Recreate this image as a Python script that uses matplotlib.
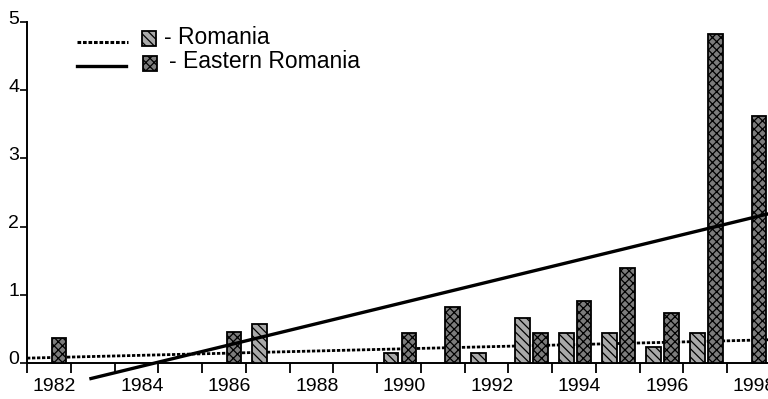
import matplotlib
matplotlib.use('Agg')
import matplotlib.pyplot as plt
from matplotlib.lines import Line2D
from matplotlib.patches import Rectangle
from matplotlib.transforms import ScaledTranslation

plt.rcParams['font.family'] = ['Liberation Sans', 'DejaVu Sans']
plt.rcParams['hatch.linewidth'] = 0.9

# ---------------- data ----------------
romania_years = [1987, 1990, 1992, 1993, 1994, 1995, 1996, 1997]
romania_values = [0.57, 0.15, 0.15, 0.66, 0.44, 0.44, 0.23, 0.44]
eastern_years = [1982, 1986, 1990, 1991, 1993, 1994, 1995, 1996, 1997, 1998]
eastern_values = [0.37, 0.45, 0.44, 0.82, 0.44, 0.91, 1.39, 0.73, 4.82, 3.62]
romania_trend_years = [1981.475, 1998.6]
romania_trend_values = [0.07, 0.342]
eastern_trend_years = [1982.9, 1998.6]
eastern_trend_values = [-0.235, 2.215]
x_label_years = [1982, 1984, 1986, 1988, 1990, 1992, 1994, 1996, 1998]
y_ticks = [0, 1, 2, 3, 4, 5]
legend_labels = ['- Romania', '- Eastern Romania']

# ---------------- figure ----------------
W, H = 768, 399
fig = plt.figure(figsize=(W / 100, H / 100), dpi=100)
fig.patch.set_facecolor('white')
ax = fig.add_axes([27 / W, 1 - 397 / H, 741 / W, 375 / H])
ax.set_facecolor('none')

x0, x1 = 1981.475, 1998.41
ax.set_xlim(x0, x1)
ax.set_ylim(-0.5, 5.0)

bw = 0.34
off = 0.205
rom_style = dict(facecolor='#a9a9a9', edgecolor='black', hatch='\\\\\\\\', linewidth=1.3)
east_style = dict(facecolor='#7c7c7c', edgecolor='black', hatch='xxxx', linewidth=1.3)

ax.bar([y - off for y in romania_years], romania_values, width=bw, zorder=3, **rom_style)
ax.bar([y + off for y in eastern_years], eastern_values, width=bw, zorder=3, **east_style)

ax.plot(romania_trend_years, romania_trend_values, color='black', lw=2.0,
        ls=(0, (1.2, 0.6)), zorder=2, clip_on=True)
ax.plot(eastern_trend_years, eastern_trend_values, color='black', lw=2.4,
        solid_capstyle='butt', zorder=4, clip_on=True)

# spines
for s in ['top', 'right']:
    ax.spines[s].set_visible(False)
ax.spines['bottom'].set_position(('data', 0))
ax.spines['left'].set_bounds(0, 5)
ax.spines['left'].set_linewidth(1.4)
ax.spines['bottom'].set_linewidth(1.4)

# x ticks: tick marks at year boundaries, labels at years
ax.set_xticks([x0 + k for k in range(18) if x0 + k <= x1], minor=True)
ax.set_xticks([y + 0.1 for y in x_label_years])
ax.set_xticklabels([str(y) for y in x_label_years])
ax.tick_params(axis='x', which='minor', length=7, width=1.3, direction='out')
ax.tick_params(axis='x', which='major', length=0, pad=11, labelsize=14)

ax.set_yticks(y_ticks)
ax.set_yticklabels([str(v) for v in y_ticks])
ax.tick_params(axis='y', length=5, width=1.2, direction='out', pad=0.5, labelsize=14)
for lab in ax.get_yticklabels():
    lab.set_transform(lab.get_transform() + ScaledTranslation(0, 5 / 100, fig.dpi_scale_trans))

# legend drawn manually in figure pixels
def fx(px):
    return px / W

def fy(py):
    return 1 - py / H

fig.add_artist(Line2D([fx(77), fx(128)], [fy(42), fy(42)], color='black', lw=2.2,
                      ls=(0, (1.2, 0.6)), transform=fig.transFigure))
fig.add_artist(Line2D([fx(77), fx(126)], [fy(66), fy(66)], color='black', lw=2.4,
                      transform=fig.transFigure))
fig.add_artist(Rectangle((fx(142), fy(46)), fx(14), 15 / H, transform=fig.transFigure, **rom_style))
fig.add_artist(Rectangle((fx(143), fy(71)), fx(14), 15 / H, transform=fig.transFigure, **east_style))
fig.text(fx(164), fy(37), legend_labels[0], fontsize=16.5, va='center', ha='left')
fig.text(fx(169), fy(62), legend_labels[1], fontsize=16.5, va='center', ha='left')

fig.savefig('out.png', dpi=100)
